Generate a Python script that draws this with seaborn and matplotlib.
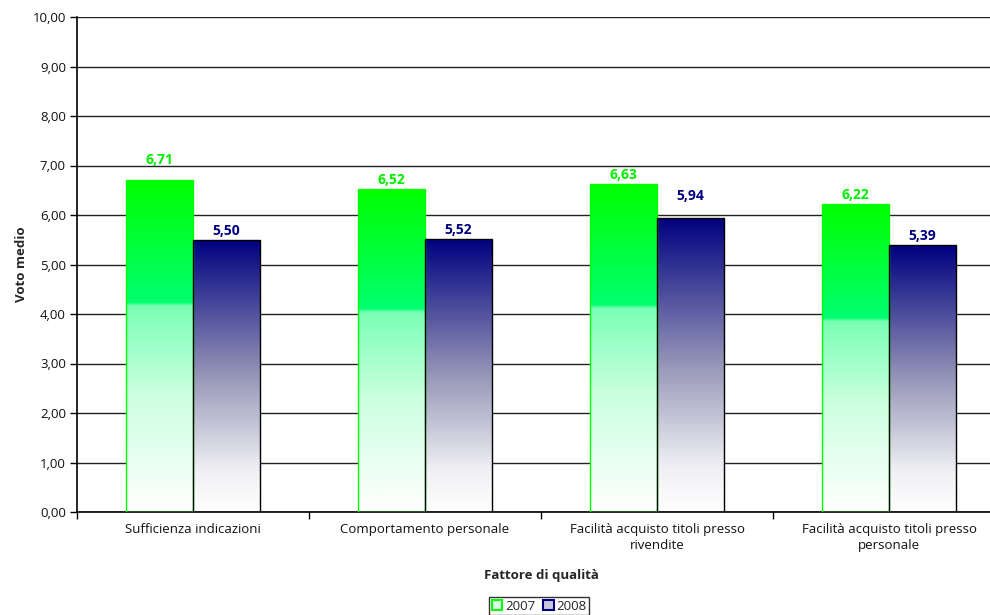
import numpy as np
import pandas as pd
import matplotlib
matplotlib.use("Agg")
import matplotlib.pyplot as plt
from matplotlib.colors import LinearSegmentedColormap
from matplotlib.patches import Patch
from matplotlib.ticker import FuncFormatter, MultipleLocator
import seaborn as sns

categories = ["Sufficienza indicazioni", "Comportamento personale",
              "Facilità acquisto titoli presso\nrivendite",
              "Facilità acquisto titoli presso\npersonale"]
series = ["2007", "2008"]
values_2007 = [6.71, 6.52, 6.63, 6.22]
values_2008 = [5.50, 5.52, 5.94, 5.39]

# label gap above each bar (pixels), as placed in the original
label_gap_2007 = [16, 5, 5, 5]
label_gap_2008 = [5, 5, 18, 5]

df = pd.DataFrame({
    "Fattore di qualità": categories * 2,
    "Voto medio": values_2007 + values_2008,
    "Anno": [series[0]] * 4 + [series[1]] * 4,
})

sns.set_theme(style="white")
plt.rcParams['font.family'] = ['Open Sans', 'DejaVu Sans']

fig = plt.figure(figsize=(9.9, 6.15), dpi=100)
ax = fig.add_axes([77/990, 103/615, 928/990, 495/615])

sns.barplot(data=df, x="Fattore di qualità", y="Voto medio", hue="Anno",
            palette=["#00ff00", "#000080"], width=0.578, gap=0,
            legend=False, ax=ax, errorbar=None)

green_cmap = LinearSegmentedColormap.from_list(
    "g", [(0, "#ffffff"), (0.35, "#ccffe0"), (0.62, "#7affb5"),
          (0.63, "#00ff70"), (1.0, "#00ff00")])
navy_cmap = LinearSegmentedColormap.from_list(
    "n", [(0, "#ffffff"), (0.15, "#f0f0f4"), (0.5, "#9696b8"), (1.0, "#000080")])

grad = np.linspace(0, 1, 256).reshape(-1, 1)
bars = sorted(ax.patches, key=lambda p: p.get_x())
for i, p in enumerate(bars):
    is2007 = (i % 2 == 0)
    cat = i // 2
    x0, w, h = p.get_x(), p.get_width(), p.get_height()
    cmap = green_cmap if is2007 else navy_cmap
    im = ax.imshow(grad, cmap=cmap, origin="lower", aspect="auto",
                   extent=[x0, x0 + w, 0, h], zorder=2, interpolation="bilinear")
    im.set_clip_path(p)
    p.set_facecolor("none")
    p.set_edgecolor("#00ff00" if is2007 else "#000000")
    p.set_linewidth(1.0)
    p.set_zorder(3)
    gap_px = label_gap_2007[cat] if is2007 else label_gap_2008[cat]
    ax.annotate(f"{h:.2f}".replace(".", ","), xy=(x0 + w / 2, h),
                xytext=(0, gap_px * 0.72), textcoords="offset points",
                ha="center", va="baseline", fontsize=10, fontweight="bold",
                color="#00ee00" if is2007 else "#000080", zorder=4)

ax.set_xlim(-0.5, 3.5)
ax.set_ylim(0, 10)
ax.yaxis.set_major_locator(MultipleLocator(1))
ax.yaxis.set_major_formatter(FuncFormatter(lambda v, _: f"{v:.2f}".replace(".", ",")))
ax.grid(axis="y", color="#222222", linewidth=1.0, zorder=0)
ax.set_axisbelow(True)
for s in ["top", "right"]:
    ax.spines[s].set_visible(False)
for s in ["left", "bottom"]:
    ax.spines[s].set_color("#000000")
    ax.spines[s].set_linewidth(1.2)

ax.set_xticks(np.arange(4))
ax.set_xticklabels(categories, fontsize=9.5, color="#111111", linespacing=1.3)
ax.tick_params(axis="x", length=0, pad=8)
ax.set_xticks(np.arange(-0.5, 4, 1), minor=True)
ax.tick_params(axis="x", which="minor", length=5, width=1, color="#000000", direction="out", bottom=True)
ax.tick_params(axis="y", length=5, width=1, color="#000000", direction="out", left=True,
               labelsize=9.5, labelcolor="#111111", pad=3)

ax.set_ylabel("Voto medio", fontsize=9.5, fontweight="bold", labelpad=3)
ax.set_xlabel("Fattore di qualità", fontsize=9.5, fontweight="bold", labelpad=12)

handles = [Patch(facecolor="#d9ffe6", edgecolor="#00ff00", linewidth=1.5, label="2007"),
           Patch(facecolor="#c8c8da", edgecolor="#000080", linewidth=1.5, label="2008")]
leg = fig.legend(handles=handles, loc="center", bbox_to_anchor=(539/990, 1 - 606/615),
                 ncol=2, frameon=True, fancybox=False, fontsize=9.5,
                 handlelength=0.8, handleheight=0.8, handletextpad=0.2,
                 columnspacing=0.6, borderpad=0.2, borderaxespad=0)
leg.get_frame().set_edgecolor("#000000")
leg.get_frame().set_linewidth(1.0)

fig.savefig("out.png", dpi=100)
